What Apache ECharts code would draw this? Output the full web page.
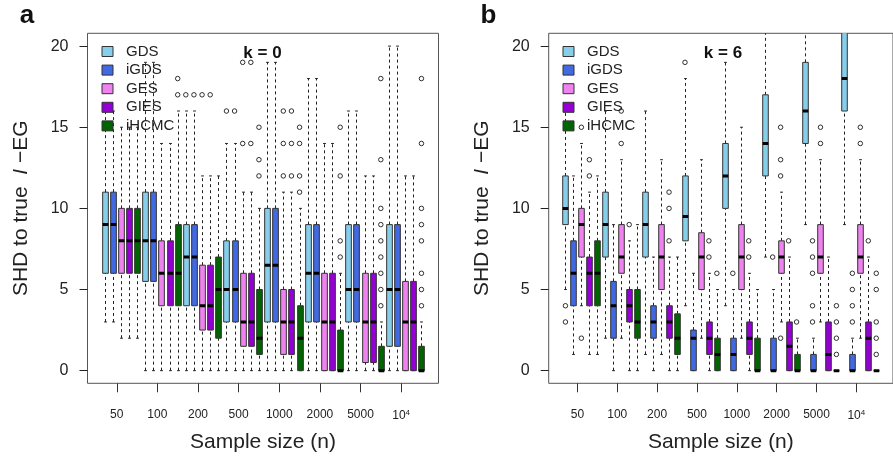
<!DOCTYPE html>
<html>
<head>
<meta charset="utf-8">
<script src="https://cdn.jsdelivr.net/npm/echarts@6/dist/echarts.min.js"></script>
<style>
  html, body { margin: 0; padding: 0; background: #fff; }
  #chart { width: 893px; height: 461px; }
</style>
</head>
<body>
<div id="chart"></div>
<script>
// categories
var sampleSizes = ['50', '100', '200', '500', '1000', '2000', '5000', '10^4'];
var methods = ['GDS', 'iGDS', 'GES', 'GIES', 'iHCMC'];
var methodColors = ['#87CEEB', '#4169E1', '#EE82EE', '#9400D3', '#006400'];
var yTicks = [0, 5, 10, 15, 20];

// k = 0 : [lower whisker, Q1, median, Q3, upper whisker] per sample size
var k0GDS   = [[3,6,9,11,16], [0,5.5,8,11,19], [0,4,7,9,16], [0,3,5,8,14], [0,3,6.5,10,19], [0,3,6,9,18], [0,3,5,9,16], [0,1.5,5,9,20]];
var k0iGDS  = [[3,6,9,11,16], [0,5.5,8,11,19], [0,4,7,9,16], [0,3,5,8,14], [0,3,6.5,10,19], [0,3,6,9,18], [0,3,5,9,16], [0,1.5,5,9,20]];
var k0GES   = [[2,6,8,10,15], [0,4,6,8,14], [0,2.5,4,6.5,12], [0,1.5,3,6,11], [0,1,3,5,11], [0,0,3,6,14], [0,0.5,3,6,12], [0,0,3,5.5,12]];
var k0GIES  = [[2,6,8,10,15], [0,4,6,8,14], [0,2.5,4,6.5,12], [0,1.5,3,6,11], [0,1,3,5,11], [0,0,3,6,14], [0,0.5,3,6,12], [0,0,3,5.5,12]];
var k0iHCMC = [[2,6,8,10,15], [0,4,6,9,16], [0,2,5,7,12], [0,1,2,5,10], [0,0,2,4,10], [0,0,0,2.5,6], [0,0,0,1.5,3], [0,0,0,1.5,3]];

// k = 0 : outliers per sample size
var k0GDSOut   = [[], [], [17], [16], [], [], [], []];
var k0iGDSOut  = [[], [], [17], [16], [], [], [], []];
var k0GESOut   = [[], [], [17], [14,19], [12,14,16], [], [], []];
var k0GIESOut  = [[], [], [17], [14,19], [12,14,16], [], [], []];
var k0iHCMCOut = [[], [17,18], [], [12,13,15], [11,12,14,15], [7,8,12,15], [4,5,6,7,8,9,10,13,18], [4,5,6,8,9,10,14,18]];

// k = 6 : [lower whisker, Q1, median, Q3, upper whisker] per sample size
var k6GDS   = [[5,9,10,12,16], [2,7,9,11,16], [1,7,9,11,16], [4,8,9.5,12,18], [4,10,12,14,19], [7,12,14,17,23], [9,14,16,19,24], [9,16,18,22,26]];
var k6iGDS  = [[1,4,6,8,12], [0,2,4,5.5,9], [0,2,3,4,7], [0,0,2,2.5,6], [0,0,1,2,5], [0,0,0,2,5], [0,0,0,1,2], [0,0,0,1,2]];
var k6GES   = [[4,7,9,10,14], [2,6,7,9,13], [1,5,7,9,13], [2,5,7,8.5,13], [2,5,7,9,15], [3,6,7,8,11], [3,6,7,9,13], [2,6,7,9,13]];
var k6GIES  = [[1,4,6,7,11], [0,3,4,5,8], [0,2,3,4,7], [0,1,2,3,6], [0,1,2,3,6], [0,0,1.5,3,7], [0,0,1,3,7], [0,0,2,3,7]];
var k6iHCMC = [[1,4,6,8,12], [0,2,3,5,9], [0,1,2,3.5,7], [0,0,1,2,5], [0,0,0,2,5], [0,0,0,1,2], [0,0,0,0,0], [0,0,0,0,0]];

// k = 6 : outliers per sample size
var k6GDSOut   = [[3,4], [], [], [19], [], [], [], []];
var k6iGDSOut  = [[], [], [], [], [6], [7], [3,4,6,7,8], [3,4,5,6]];
var k6GESOut   = [[2,15], [14,16], [], [], [], [2,12,13,15], [14,15], [14,15]];
var k6GIESOut  = [[12,13], [9], [8,10,11], [7,8], [7,8], [8], [], [8]];
var k6iHCMCOut = [[], [], [], [6], [], [3], [1,2,3,4], [1,2,3,5,6]];

var FONT = '"Liberation Sans", Arial, sans-serif';

var panels = [
    {stats: [k0GDS, k0iGDS, k0GES, k0GIES, k0iHCMC], outs: [k0GDSOut, k0iGDSOut, k0GESOut, k0GIESOut, k0iHCMCOut]},
    {stats: [k6GDS, k6iGDS, k6GES, k6GIES, k6iHCMC], outs: [k6GDSOut, k6iGDSOut, k6GESOut, k6GIESOut, k6iHCMCOut]}
];

// box m of group g sits at 5g + m - 1.5 so the group tick is at 5g
var boxPos = function (g, m) {
    return 5 * g + m - 1.5;
};

var renderBox = function (params, api) {
    var x = api.value(0);
    var lo = api.coord([x, api.value(1)]);
    var q1 = api.coord([x, api.value(2)]);
    var md = api.coord([x, api.value(3)]);
    var q3 = api.coord([x, api.value(4)]);
    var hi = api.coord([x, api.value(5)]);
    var w = api.size([0.7, 0])[0];
    var cx = Math.round(lo[0]) + 0.5;
    var half = w / 2, cap = w / 4;
    var ink = '#222';
    var dash = {stroke: ink, lineWidth: 1, lineDash: [3, 3]};
    var solid = {stroke: ink, lineWidth: 1};
    return {
        type: 'group',
        children: [
            {type: 'line', shape: {x1: cx, y1: lo[1], x2: cx, y2: q1[1]}, style: dash},
            {type: 'line', shape: {x1: cx, y1: q3[1], x2: cx, y2: hi[1]}, style: dash},
            {type: 'line', shape: {x1: cx - cap, y1: lo[1], x2: cx + cap, y2: lo[1]}, style: solid},
            {type: 'line', shape: {x1: cx - cap, y1: hi[1], x2: cx + cap, y2: hi[1]}, style: solid},
            {type: 'rect', shape: {x: cx - half, y: q3[1], width: w, height: q1[1] - q3[1]},
                style: {fill: api.visual('color'), stroke: '#333', lineWidth: 1}},
            {type: 'line', shape: {x1: cx - half, y1: md[1], x2: cx + half, y2: md[1]},
                style: {stroke: '#000', lineWidth: 3}}
        ]
    };
};

var series = [];
panels.forEach(function (panel, p) {
    methods.forEach(function (name, m) {
        series.push({
            name: name,
            type: 'custom',
            xAxisIndex: p,
            yAxisIndex: p,
            clip: true,
            itemStyle: {color: methodColors[m]},
            renderItem: renderBox,
            encode: {x: 0, y: [1, 2, 3, 4, 5]},
            data: panel.stats[m].map(function (s, g) {
                return [boxPos(g, m)].concat(s);
            })
        });
    });
    methods.forEach(function (name, m) {
        var pts = [];
        panel.outs[m].forEach(function (list, g) {
            list.forEach(function (v) {
                pts.push([boxPos(g, m), v]);
            });
        });
        series.push({
            name: name + ' outliers',
            type: 'scatter',
            xAxisIndex: p,
            yAxisIndex: p,
            symbol: 'circle',
            symbolSize: 4.5,
            itemStyle: {color: 'rgba(0,0,0,0)', borderColor: '#000', borderWidth: 1},
            data: pts
        });
    });
});

var xTickValues = sampleSizes.map(function (s, g) { return 5 * g; });

var makeXAxis = function (idx) {
    return {
        gridIndex: idx,
        type: 'value',
        position: 'bottom',
        min: -3.6,
        max: 39.6,
        axisLine: {show: false, onZero: false},
        splitLine: {show: false},
        axisTick: {show: true, customValues: xTickValues, length: 9, lineStyle: {color: '#333'}},
        axisLabel: {
            customValues: xTickValues,
            margin: 25,
            fontSize: 12,
            fontFamily: FONT,
            color: '#222',
            formatter: function (v) {
                var s = sampleSizes[Math.round(v / 5)];
                return s === '10^4' ? '{b|10}{sup|4}' : s;
            },
            rich: {
                b: {fontSize: 12, fontFamily: FONT, color: '#222'},
                sup: {fontSize: 8, fontFamily: FONT, color: '#222', verticalAlign: 'top', padding: [0, 0, 6, 0]}
            }
        },
        name: 'Sample size (n)',
        nameLocation: 'middle',
        nameGap: 48,
        nameTextStyle: {fontSize: 21, fontFamily: FONT, color: '#222'}
    };
};

var makeYAxis = function (idx) {
    return {
        gridIndex: idx,
        type: 'value',
        position: 'left',
        min: -0.78,
        max: 20.79,
        axisLine: {show: false, onZero: false},
        splitLine: {show: false},
        axisTick: {show: true, customValues: yTicks, length: 8, lineStyle: {color: '#222', width: 1}},
        axisLabel: {customValues: yTicks, margin: 19, fontSize: 16, fontFamily: FONT, color: '#222'},
        name: 'SHD to true  {i|I} \u2212EG',
        nameLocation: 'middle',
        nameGap: 56,
        nameTextStyle: {
            fontSize: 21, fontFamily: FONT, color: '#222',
            rich: {i: {fontSize: 21, fontFamily: FONT, fontStyle: 'italic', color: '#222'}}
        }
    };
};

var makeLegend = function (left) {
    return {
        data: methods,
        orient: 'vertical',
        left: left,
        top: 44,
        padding: 0,
        itemGap: 3.6,
        itemWidth: 11,
        itemHeight: 10,
        icon: 'rect',
        selectedMode: false,
        itemStyle: {borderColor: '#333', borderWidth: 1},
        textStyle: {fontSize: 15, lineHeight: 15, fontFamily: FONT, color: '#222', padding: [0, 0, 0, 8]}
    };
};

var makeText = function (x, y, text, size) {
    return {
        type: 'text', x: x, y: y,
        style: {text: text, font: 'bold ' + size + 'px ' + FONT, fill: '#111', align: 'center', verticalAlign: 'middle'}
    };
};

var chart = echarts.init(document.getElementById('chart'));
chart.setOption({
    animation: false,
    backgroundColor: '#fff',
    grid: [
        {left: 87.5, top: 33.3, width: 351, height: 350, show: true, borderColor: '#555', borderWidth: 1},
        {left: 548.7, top: 33.3, width: 351, height: 350, show: true, borderColor: '#555', borderWidth: 1}
    ],
    xAxis: [makeXAxis(0), makeXAxis(1)],
    yAxis: [makeYAxis(0), makeYAxis(1)],
    legend: [makeLegend(101.5), makeLegend(562.5)],
    graphic: [
        makeText(27, 16, 'a', 26),
        makeText(488.5, 16, 'b', 26),
        makeText(262.5, 53, 'k = 0', 17),
        makeText(723, 53, 'k = 6', 17)
    ],
    series: series
});
</script>
</body>
</html>
